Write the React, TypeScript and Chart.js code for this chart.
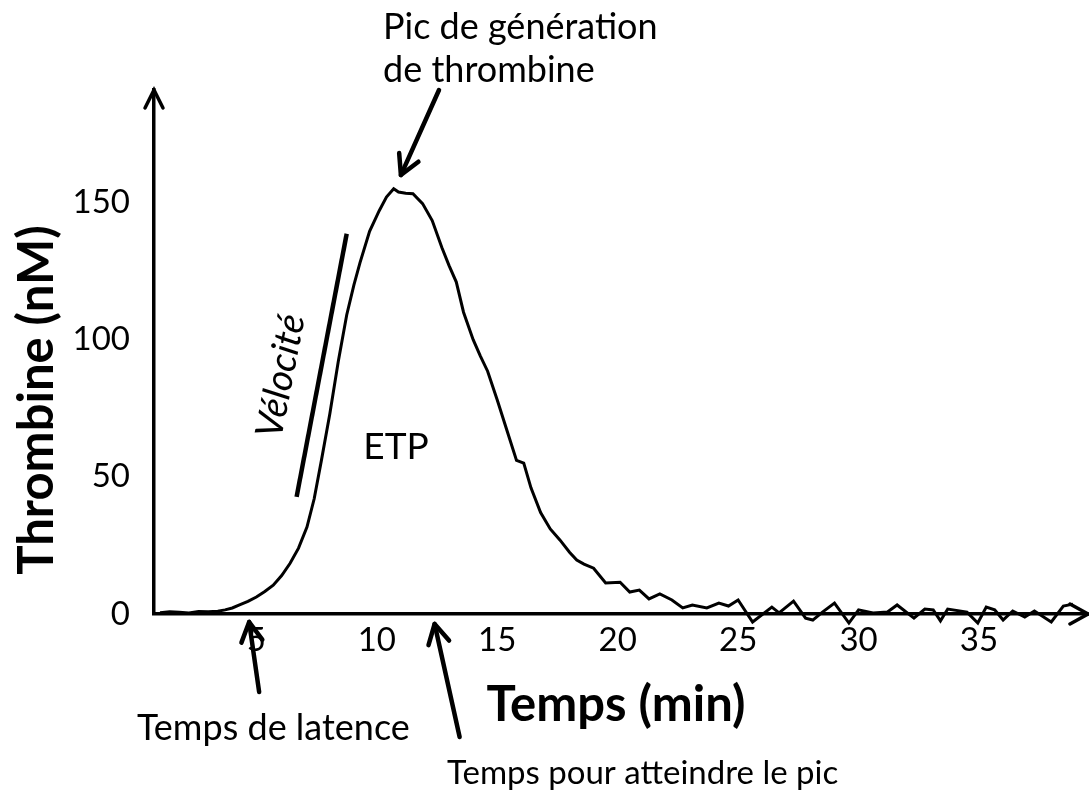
import React, { useEffect, useRef } from "react";
import { Chart, registerables } from "chart.js";

Chart.register(...registerables);

// ---- Data ----
const times: number[] = [
  1.0, 1.4, 1.8, 2.2, 2.6, 3.0, 3.4, 3.7, 4.0, 4.3, 4.65, 5.0, 5.35, 5.7, 6.05, 6.4, 6.75, 7.1, 7.4, 7.7,
  8.05, 8.4, 8.75, 9.05, 9.3, 9.7, 10.1, 10.4, 10.7, 10.9, 11.2, 11.5, 11.9, 12.3, 12.7, 13.0, 13.3, 13.6,
  14.0, 14.3, 14.6, 15.0, 15.4, 15.8, 16.1, 16.4, 16.8, 17.2, 17.6, 18.0, 18.3, 18.6, 19.0, 19.5, 20.1,
  20.5, 20.9, 21.3, 21.75, 22.25, 22.7, 23.1, 23.7, 24.2, 24.6, 25.0, 25.6, 26.4, 26.7, 27.3, 27.8, 28.1,
  28.5, 29.0, 29.6, 30.0, 30.6, 31.2, 31.6, 32.3, 32.75, 33.1, 33.4, 33.7, 34.5, 34.95, 35.3, 35.65, 36.0,
  36.4, 36.9, 37.3, 38.0, 38.5, 38.9,
];
const thrombin: number[] = [
  0.5, 0.8, 0.6, 0.4, 0.9, 0.8, 1.0, 1.5, 2.2, 3.3, 4.6, 6.2, 8.2, 10.5, 14, 18.5, 24, 31.7, 42, 56,
  73, 92, 109, 120, 128, 139.5, 147, 152, 155, 153.8, 153.4, 153.2, 149.6, 143.4, 133.6, 127, 121, 110,
  100, 94, 88.5, 78, 67, 56, 55, 46, 37, 31, 27, 22.5, 19.7, 18.2, 16.7, 11.3, 11.6,
  8, 8.7, 5.5, 7.3, 5.1, 2.2, 3.3, 2.2, 4, 2.9, 5.1, -2.9, 2.5, 0.4, 4.7, -1.5, -2.2,
  0.7, 4, -3.3, 1.5, 0.4, 0.7, 3.3, -1.5, 1.8, 1.5, -2.5, 1.8, 0.7, -3.3, 2.5, 1.5, -2.2,
  1.1, -1.1, 1.1, -2.9, 2.9, 3.6,
];
// Velocity tangent segment (time, thrombin)
const velocityTimes: number[] = [6.67, 8.75];
const velocityValues: number[] = [42.7, 138.6];

const xTicks: number[] = [5, 10, 15, 20, 25, 30, 35];
const yTicks: number[] = [0, 50, 100, 150];

const X_MIN = 0.75;
const X_MAX = 39.4;
const Y_MIN = 0;
const Y_MAX = 191;

// annotation anchors in data units
const peakArrowTip = { t: 11.0, v: 160 };
const latencyTime = 4.7;
const peakTime = 12.4;
const etpPos = { t: 10.8, v: 61 };

const FONT = "Lato, 'Open Sans', sans-serif";

function arrow(ctx: CanvasRenderingContext2D, x1: number, y1: number, x2: number, y2: number, head: number, lw: number) {
  const ang = Math.atan2(y2 - y1, x2 - x1);
  ctx.save();
  ctx.strokeStyle = "#000";
  ctx.lineWidth = lw;
  ctx.lineCap = "round";
  ctx.lineJoin = "round";
  ctx.beginPath();
  ctx.moveTo(x1, y1);
  ctx.lineTo(x2, y2);
  ctx.stroke();
  ctx.beginPath();
  ctx.moveTo(x2 - head * Math.cos(ang - 0.5), y2 - head * Math.sin(ang - 0.5));
  ctx.lineTo(x2, y2);
  ctx.lineTo(x2 - head * Math.cos(ang + 0.5), y2 - head * Math.sin(ang + 0.5));
  ctx.stroke();
  ctx.restore();
}

const annotations = {
  id: "annotations",
  afterDraw(chart: any) {
    const ctx: CanvasRenderingContext2D = chart.ctx;
    const xs = chart.scales.x;
    const ys = chart.scales.y;
    const area = chart.chartArea;
    ctx.save();
    ctx.fillStyle = "#000";

    // axis arrowheads
    ctx.strokeStyle = "#000";
    ctx.lineWidth = 3.5;
    ctx.lineCap = "round";
    ctx.beginPath();
    ctx.moveTo(area.left - 9, area.top + 18);
    ctx.lineTo(area.left, area.top);
    ctx.lineTo(area.left + 9, area.top + 18);
    ctx.stroke();
    ctx.beginPath();
    ctx.moveTo(area.right, area.bottom);
    ctx.lineTo(area.right + 3, area.bottom);
    ctx.stroke();
    ctx.beginPath();
    ctx.moveTo(area.right - 15, area.bottom - 10);
    ctx.lineTo(area.right + 3, area.bottom);
    ctx.lineTo(area.right - 15, area.bottom + 10);
    ctx.stroke();

    // axis titles
    ctx.font = `bold 49px ${FONT}`;
    ctx.textAlign = "center";
    ctx.textBaseline = "middle";
    ctx.save();
    ctx.translate(37, 400);
    ctx.rotate(-Math.PI / 2);
    ctx.fillText("Thrombine (nM)", 0, 0);
    ctx.restore();
    ctx.font = `bold 49px ${FONT}`;
    ctx.fillText("Temps (min)", 616, 705);

    // peak annotation
    ctx.font = `36px ${FONT}`;
    ctx.textAlign = "left";
    ctx.fillText("Pic de génération", 383, 27);
    ctx.fillText("de thrombine", 383, 70);
    arrow(ctx, 439, 90, xs.getPixelForValue(peakArrowTip.t), ys.getPixelForValue(peakArrowTip.v), 22, 4.5);

    // velocity label
    ctx.save();
    ctx.translate(281, 376);
    ctx.rotate(-79 * Math.PI / 180);
    ctx.font = `italic 38px ${FONT}`;
    ctx.textAlign = "center";
    ctx.fillText("Vélocité", 0, 0);
    ctx.restore();

    // ETP
    ctx.font = `37px ${FONT}`;
    ctx.textAlign = "center";
    ctx.fillText("ETP", xs.getPixelForValue(etpPos.t), ys.getPixelForValue(etpPos.v));

    // latency
    const lx = xs.getPixelForValue(latencyTime);
    arrow(ctx, lx + 10, 692, lx, area.bottom + 8, 22, 4.5);
    ctx.font = `36px ${FONT}`;
    ctx.textAlign = "left";
    ctx.fillText("Temps de latence", 137, 728);

    // time to peak
    const px = xs.getPixelForValue(peakTime);
    arrow(ctx, px + 25, 737, px, area.bottom + 10, 22, 4.5);
    ctx.font = `33px ${FONT}`;
    ctx.fillText("Temps pour atteindre le pic", 447, 773);

    ctx.restore();
  },
};

export default function App() {
  const ref = useRef<HTMLCanvasElement | null>(null);
  useEffect(() => {
    if (!ref.current) return;
    const chart = new Chart(ref.current, {
      type: "line",
      data: {
        datasets: [
          {
            label: "Thrombine",
            data: times.map((t, i) => ({ x: t, y: thrombin[i] })),
            borderColor: "#000",
            borderWidth: 3,
            pointRadius: 0,
            tension: 0,
            fill: false,
            clip: false as any,
          },
          {
            label: "Vélocité",
            data: velocityTimes.map((t, i) => ({ x: t, y: velocityValues[i] })),
            borderColor: "#000",
            borderWidth: 4.5,
            pointRadius: 0,
            tension: 0,
            fill: false,
          },
        ],
      },
      options: {
        animation: false,
        responsive: false,
        layout: { padding: { left: 0, top: 90, right: 4, bottom: 0 } },
        plugins: { legend: { display: false }, tooltip: { enabled: false }, title: { display: false } },
        scales: {
          x: {
            type: "linear",
            min: X_MIN,
            max: X_MAX,
            grid: { display: false, drawTicks: false },
            border: { display: true, color: "#000", width: 3.5 },
            afterBuildTicks: (s: any) => {
              s.ticks = xTicks.map((v) => ({ value: v }));
            },
            afterFit: (s: any) => {
              s.height = 793 - 614;
            },
            ticks: {
              color: "#000",
              font: { family: FONT, size: 33 },
              padding: 7,
              maxRotation: 0,
              autoSkip: false,
            },
          },
          y: {
            type: "linear",
            min: Y_MIN,
            max: Y_MAX,
            grid: { display: false, drawTicks: false },
            border: { display: true, color: "#000", width: 3.5 },
            afterBuildTicks: (s: any) => {
              s.ticks = yTicks.map((v) => ({ value: v }));
            },
            afterFit: (s: any) => {
              s.width = 154;
            },
            ticks: {
              color: "#000",
              font: { family: FONT, size: 33 },
              padding: 24,
            },
          },
        },
      },
      plugins: [annotations],
    });
    return () => chart.destroy();
  }, []);
  return (
    <div style={{ position: "absolute", left: 0, top: 0, width: 1089, height: 793, background: "#fff" }}>
      <canvas ref={ref} width={1089} height={793} />
    </div>
  );
}
